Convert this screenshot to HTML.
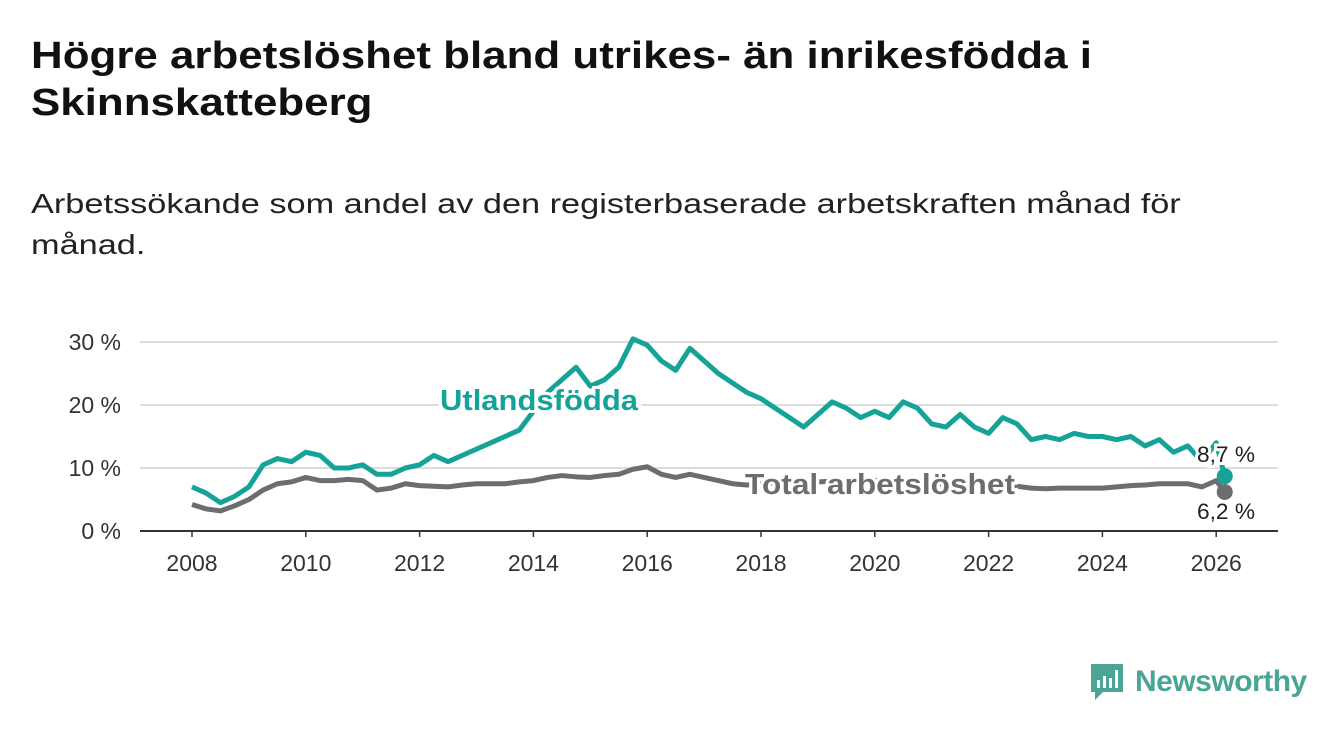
<!DOCTYPE html>
<html><head><meta charset="utf-8"><style>
body{margin:0;width:1340px;height:734px;background:#fff;font-family:"Liberation Sans",sans-serif;overflow:hidden;position:relative}
h1{position:absolute;left:31px;top:33px;margin:0;font-size:38px;line-height:47px;font-weight:bold;color:#111;transform:scaleX(1.155);transform-origin:0 0;white-space:nowrap}
.sub{position:absolute;left:31px;top:183px;margin:0;font-size:28px;line-height:41px;color:#222;transform:scaleX(1.225);transform-origin:0 0;white-space:nowrap}
svg{position:absolute;left:0;top:0}
</style></head><body>
<h1>Högre arbetslöshet bland utrikes- än inrikesfödda i<br>Skinnskatteberg</h1>
<p class="sub">Arbetssökande som andel av den registerbaserade arbetskraften månad för<br>månad.</p>
<svg id="c" width="1340" height="734"></svg>
<script>
const utl=[7,6,4.5,5.5,7,10.5,11.5,11,12.5,12,10,10,10.5,9,9,10,10.5,12,11,12,13,14,15,16,19,22,24,26,23,24,26,30.5,29.5,27,25.5,29,27,25,23.5,22,21,19.5,18,16.5,18.5,20.5,19.5,18,19,18,20.5,19.5,17,16.5,18.5,16.5,15.5,18,17,14.5,15,14.5,15.5,15,15,14.5,15,13.5,14.5,12.5,13.5,11,14,8.7];
const tot=[4.2,3.5,3.2,4,5,6.5,7.5,7.8,8.5,8,8,8.2,8,6.5,6.8,7.5,7.2,7.1,7,7.3,7.5,7.5,7.5,7.8,8,8.5,8.8,8.6,8.5,8.8,9,9.8,10.2,9,8.5,9,8.5,8,7.5,7.3,7.5,7.6,7.7,7.8,7.8,7.9,8,8,8,7.8,7.6,7.5,7.5,7.5,7.5,7.5,7.5,7.3,7.1,6.8,6.7,6.8,6.8,6.8,6.8,7,7.2,7.3,7.5,7.5,7.5,7,8,6.2];
const yTicks=[0,10,20,30];
const xTicks=[2008,2010,2012,2014,2016,2018,2020,2022,2024,2026];
const start=2008, step=0.25, lastDate=2026.15;
const X=d=>192+(d-2008)*56.9, Y=v=>531-v*6.3;
const svg=document.getElementById('c'), NS='http://www.w3.org/2000/svg';
function mk(t,a){const e=document.createElementNS(NS,t);for(const k in a)e.setAttribute(k,a[k]);svg.appendChild(e);return e;}
const date=i=>i===utl.length-1?lastDate:start+i*step;
yTicks.forEach(v=>{const l=mk('line',{x1:140,x2:1278,y1:Y(v),y2:Y(v),stroke:v?'#ddd':'#333','stroke-width':2});

const t=mk('text',{x:121,y:Y(v)+8,'text-anchor':'end','font-size':23,fill:'#333'});t.textContent=v+' %';
});
xTicks.forEach(y=>{const k=mk('line',{x1:X(y),x2:X(y),y1:531,y2:537,stroke:'#333','stroke-width':1.5});

const t=mk('text',{x:X(y),y:571,'text-anchor':'middle','font-size':23,fill:'#333'});t.textContent=y;
});
function line(arr,col,name){const p=mk('polyline',{points:arr.map((v,i)=>X(date(i))+','+Y(v)).join(' '),fill:'none',stroke:col,'stroke-width':5,'stroke-linejoin':'round'});

const n=arr.length-1;const c=mk('circle',{cx:X(date(n)),cy:Y(arr[n]),r:8,fill:col});
}
line(tot,'#6d6c71','total-line');
line(utl,'#14a396','utlandsfodda-line');
function lab(x,y,txt,col,size,bold,name,anchor,len){
const a={x:x,y:y,'font-size':size,'font-weight':bold?'bold':'normal',fill:col,stroke:'#fff','stroke-width':6,'paint-order':'stroke','text-anchor':anchor||'start'};
if(len){a.textLength=len;a.lengthAdjust='spacingAndGlyphs';}
const t=mk('text',a);t.textContent=txt;
}
lab(440,410,'Utlandsfödda','#14a396',29,true,'utlandsfodda-label','start',198);
lab(745,494,'Total arbetslöshet','#6d6c71',29,true,'total-label','start',270);
lab(1226,462,'8,7 %','#222',22,false,'utlandsfodda-end-value','middle',58);
lab(1226,519,'6,2 %','#222',22,false,'total-end-value','middle',58);
</script>
<div style="position:absolute;left:1089px;top:662px;display:flex;align-items:center">
<svg width="36" height="40" viewBox="0 0 36 40" style="position:static"><path d="M2 2h32v28H14l-8 8v-8H2z" fill="#4aa596"/><rect x="8" y="18" width="3" height="8" fill="#fff"/><rect x="14" y="14" width="3" height="12" fill="#fff"/><rect x="20" y="16" width="3" height="10" fill="#fff"/><rect x="26" y="8" width="3" height="18" fill="#fff"/></svg>
<span style="font-size:30px;color:#4aa596;margin-left:10px;font-weight:bold;letter-spacing:-0.5px">Newsworthy</span></div>
</body></html>
